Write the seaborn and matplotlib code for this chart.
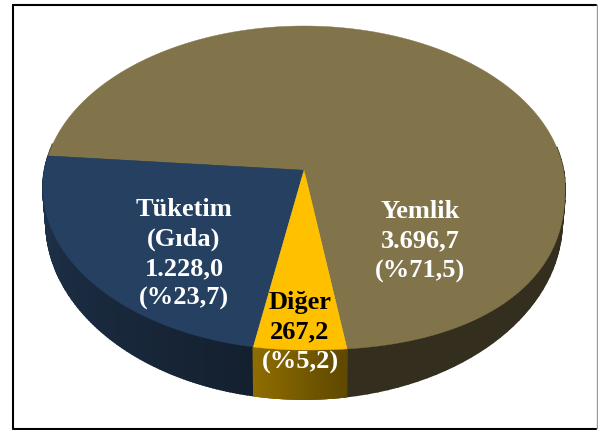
import numpy as np
import matplotlib.pyplot as plt
import seaborn as sns

names = ['Yemlik', 'Tüketim', 'Diğer']
values = [3696.7, 1228.0, 267.2]
labels = ['Yemlik\n3.696,7\n(%71,5)', 'Tüketim\n(Gıda)\n1.228,0\n(%23,7)']
other_label = 'Diğer\n267,2'
other_pct = '(%5,2)'
top_colors = ['#82744a', '#254061', '#ffc000']
side_from = ['#332e1e', '#20354f', '#8f6e00']
side_to = ['#332e1e', '#14202f', '#5f4800']

sns.set_theme(style='white')
plt.rcParams['font.family'] = ['Liberation Serif', 'DejaVu Serif']

fig, ax = plt.subplots(figsize=(5.98, 4.30), dpi=100)
ax.set_position([0, 0, 1, 1])
ax.set_xlim(0, 598)
ax.set_ylim(430, 0)
ax.axis('off')

# tilted disc, far side squeezed so the apex sits above the ellipse centre
tilt = 0.11
start = 8.5


def rim(deg, cx, cy, rx, ry, square=2.0):
    t = np.radians(deg)
    x, y = np.sin(t), -np.cos(t)
    d = 1 + tilt * y
    px = x * np.sqrt(1 - tilt**2) / d
    py = (y + tilt) / d
    # front right of the top face bulges a bit more than an ellipse
    low_right = (px > 0) & (py < 0)
    py = np.where(low_right, -(1 - np.abs(px)**square)**(1 / square), py)
    return cx + rx * px, cy - ry * py


top = (304, 188, 261, 162, 2.3)
bottom = (304, 222, 258, 177)

edges = start + np.cumsum([0] + values) / sum(values) * 360


def signed(a):
    return np.mod(a + 180, 360) - 180


# side wall, strips so it can shade across
for i in range(3):
    ts = np.linspace(edges[i], edges[i + 1], 121)
    ts = ts[np.abs(signed(ts)) < 100]
    pal = sns.blend_palette([side_from[i], side_to[i]], len(ts))
    for j in range(len(ts) - 1):
        x1, y1 = rim(ts[j:j + 2], *top)
        x2, y2 = rim(ts[j:j + 2], *bottom)
        ax.fill(np.r_[x1, x2[::-1]], np.r_[y1, y2[::-1]], color=pal[j], lw=1.2, zorder=2)

# top surface
apex_y = 188 - 162 * tilt
for i in range(3):
    ts = np.linspace(edges[i], edges[i + 1], 400)
    x, y = rim(ts, *top)
    ax.fill(np.r_[304, x], np.r_[apex_y, y], color=top_colors[i], lw=0.3, zorder=3)

text_kw = dict(fontsize=19, fontweight='bold', ha='center', va='center',
               linespacing=1.36, zorder=5)
ax.text(420, 241.5, labels[0], color='white', **text_kw)
ax.text(184, 254, labels[1], color='white', **text_kw)
ax.text(300, 317, other_label, color='black', **text_kw)
ax.text(300, 362, other_pct, color='white', **text_kw)

# outer frame
ax.plot([596.5, 596.5], [5, 428], color='#9a9a9a', lw=1, zorder=6)
ax.plot([13, 13, 596], [5, 428.5, 428.5], color='black', lw=1.5, zorder=6)
ax.plot([13, 596], [5, 5], color='black', lw=1.5, zorder=6)

fig.savefig('out.png', dpi=100)
